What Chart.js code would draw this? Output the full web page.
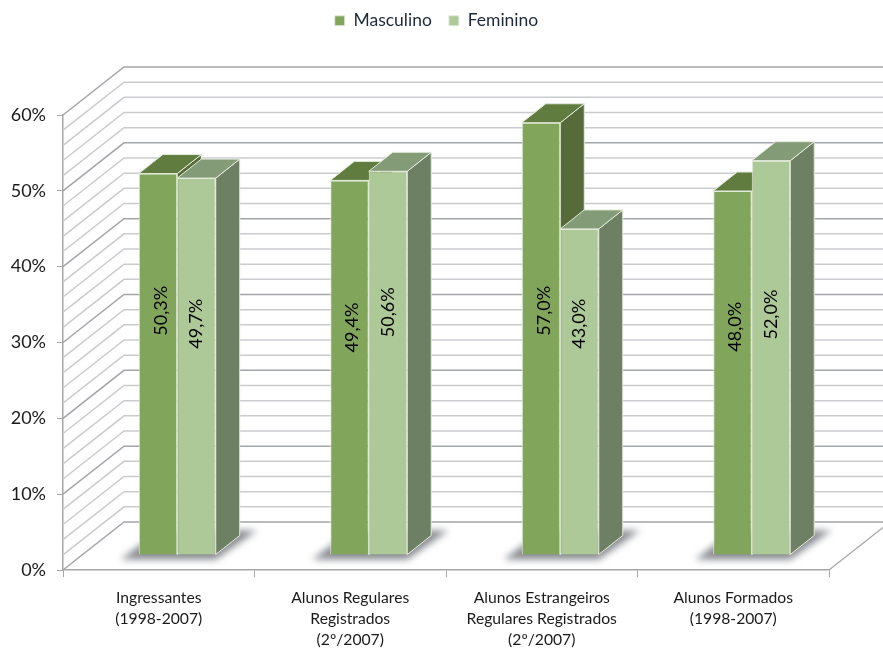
<!DOCTYPE html>
<html>
<head>
<meta charset="utf-8">
<title>Alunos por sexo</title>
<style>
  html, body { margin: 0; padding: 0; background: #fff; }
  canvas { display: block; }
</style>
<script src="https://cdn.jsdelivr.net/npm/chart.js@4/dist/chart.umd.js"></script>
</head>
<body>
<canvas id="chart" width="883" height="648"></canvas>
<script>
/* Data */
const categories = [
  ['Ingressantes', '(1998-2007)'],
  ['Alunos Regulares', 'Registrados', '(2º/2007)'],
  ['Alunos Estrangeiros', 'Regulares Registrados', '(2º/2007)'],
  ['Alunos Formados', '(1998-2007)']
];
const masculino = [50.3, 49.4, 57.0, 48.0];
const feminino = [49.7, 50.6, 43.0, 52.0];

/* Axis values where the hand-placed rotated labels sit */
const labelAtMasc = [32.2, 30.0, 32.2, 30.1];
const labelAtFem = [30.5, 32.0, 30.5, 31.7];

/* 3D look */
const WALL = { dx: 61, dy: -48 };      // depth of floor and side wall
const BAR_SHIFT = { x: 18.5, y: -15 }; // bars stand inside the floor
const BAR_DEPTH = { x: 24, y: -19 };
const FACES = [
  { front: '#80a55b', top: '#607c3e', side: '#566b39' },
  { front: '#adc998', top: '#849b78', side: '#6e8064' }
];
const EDGE = '#e3ebdc';

function poly(ctx, pts, fill, stroke) {
  ctx.beginPath();
  pts.forEach((p, i) => i ? ctx.lineTo(p[0], p[1]) : ctx.moveTo(p[0], p[1]));
  ctx.closePath();
  if (fill) { ctx.fillStyle = fill; ctx.fill(); }
  if (stroke) { ctx.strokeStyle = stroke; ctx.lineWidth = 1; ctx.stroke(); }
}

const fakeLegendHeight = {
  id: 'fakeLegendHeight',
  beforeInit(chart) {
    const fit = chart.legend.fit;
    chart.legend.fit = function () {
      fit.call(this);
      this.height = 115;
    };
  },
  afterLayout(chart) {
    // legend sits over the whole canvas, not just the plot
    chart.legend.top = -5;
    chart.legend.left = 0;
    chart.legend.right = 873;
  }
};

const walls = {
  id: 'walls',
  beforeDatasetsDraw(chart) {
    const { ctx, chartArea: area, scales: { y } } = chart;
    ctx.save();
    y.ticks.forEach(t => {
      const py = y.getPixelForValue(t.value);
      const major = t.value % 10 === 0;
      ctx.lineWidth = 1.5;
      ctx.strokeStyle = major ? '#a2a5a9' : '#c9cbcf';
      ctx.beginPath();
      ctx.moveTo(area.left, py);
      ctx.lineTo(area.left + WALL.dx, py + WALL.dy);
      ctx.lineTo(area.right + WALL.dx, py + WALL.dy);
      ctx.stroke();
    });
    // floor, right edge
    const py = y.getPixelForValue(0);
    ctx.strokeStyle = '#a6a6a6';
    ctx.lineWidth = 1.3;
    ctx.beginPath();
    ctx.moveTo(area.right, py);
    ctx.lineTo(area.right + WALL.dx, py + WALL.dy);
    ctx.stroke();
    ctx.restore();
  }
};

const bars3d = {
  id: 'bars3d',
  beforeDatasetsDraw(chart) {
    const { ctx } = chart;
    const first = chart.getDatasetMeta(0).data;
    const last = chart.getDatasetMeta(1).data;

    // soft shadow on the floor, under each pair
    ctx.save();
    ctx.filter = 'blur(3.5px)';
    first.forEach((bar, i) => {
      const left = bar.x - bar.width / 2 + BAR_SHIFT.x;
      const right = last[i].x + last[i].width / 2 + BAR_SHIFT.x;
      const base = bar.base + BAR_SHIFT.y;
      poly(ctx, [
        [left - 18, base + 5],
        [right, base + 5],
        [right + 41, base - 24],
        [left + 21, base - 24]
      ], 'rgba(96,100,108,.75)');
    });
    ctx.restore();

    // the bars of every dataset are moved back into the floor
    ctx.save();
    ctx.translate(BAR_SHIFT.x, BAR_SHIFT.y);
    [0, 1].forEach(d => {
      chart.getDatasetMeta(d).data.forEach(bar => {
        const l = bar.x - bar.width / 2;
        const r = bar.x + bar.width / 2;
        const dx = BAR_DEPTH.x;
        const dy = BAR_DEPTH.y;
        poly(ctx, [[r, bar.y], [r + dx, bar.y + dy], [r + dx, bar.base + dy], [r, bar.base]], FACES[d].side, EDGE);
        poly(ctx, [[l, bar.y], [l + dx, bar.y + dy], [r + dx, bar.y + dy], [r, bar.y]], FACES[d].top, EDGE);
      });
    });
  },
  afterDatasetsDraw(chart) {
    const { ctx, scales: { y } } = chart;
    ctx.restore();
    [labelAtMasc, labelAtFem].forEach((at, d) => {
      chart.getDatasetMeta(d).data.forEach((bar, i) => {
        const v = chart.data.datasets[d].data[i];
        ctx.save();
        ctx.translate(bar.x + BAR_SHIFT.x + (d === 0 ? 3 : 0), y.getPixelForValue(at[i]) + BAR_SHIFT.y);
        ctx.rotate(-Math.PI / 2);
        ctx.font = '18px Lato';
        ctx.fillStyle = '#000';
        ctx.textAlign = 'center';
        ctx.textBaseline = 'middle';
        ctx.fillText(v.toFixed(1).replace('.', ',') + '%', 0, 0);
        ctx.restore();
      });
    });
  }
};

new Chart(document.getElementById('chart').getContext('2d'), {
  type: 'bar',
  data: {
    labels: categories,
    datasets: [
      { label: 'Masculino', data: masculino, backgroundColor: FACES[0].front, borderColor: EDGE, borderWidth: 1, clip: false },
      { label: 'Feminino', data: feminino, backgroundColor: FACES[1].front, borderColor: EDGE, borderWidth: 1, clip: false }
    ]
  },
  options: {
    responsive: false,
    animation: false,
    layout: { padding: { right: 54 } },
    datasets: { bar: { categoryPercentage: 0.402, barPercentage: 1 } },
    plugins: {
      tooltip: { enabled: false },
      legend: {
        position: 'top',
        labels: {
          boxWidth: 10,
          boxHeight: 10,
          padding: 17,
          color: '#1f2a38',
          font: { family: 'Lato', size: 17.5 }
        }
      }
    },
    scales: {
      x: {
        afterFit: s => { s.height = 78; },
        border: { color: '#a6a6a6', width: 1.5 },
        grid: { drawOnChartArea: false, tickLength: 7, color: '#a6a6a6' },
        ticks: {
          autoSkip: false,
          maxRotation: 0,
          padding: 10,
          color: '#1a1a1a',
          font: { family: 'Lato', size: 15.7, lineHeight: 1.34 }
        }
      },
      y: {
        min: 0,
        max: 60,
        afterFit: s => { s.width = 63; },
        border: { color: '#a6a6a6', width: 1.5 },
        grid: {
          drawOnChartArea: false,
          tickLength: 6,
          color: '#a6a6a6',
          tickColor: c => (c.tick.value % 10 === 0 ? '#a6a6a6' : 'rgba(0,0,0,0)')
        },
        ticks: {
          stepSize: 2,
          autoSkip: false,
          padding: 11,
          color: '#1a1a1a',
          font: { family: 'Lato', size: 18 },
          callback: v => (v % 10 === 0 ? v + '%' : '')
        }
      }
    }
  },
  plugins: [fakeLegendHeight, walls, bars3d]
});
</script>
</body>
</html>
